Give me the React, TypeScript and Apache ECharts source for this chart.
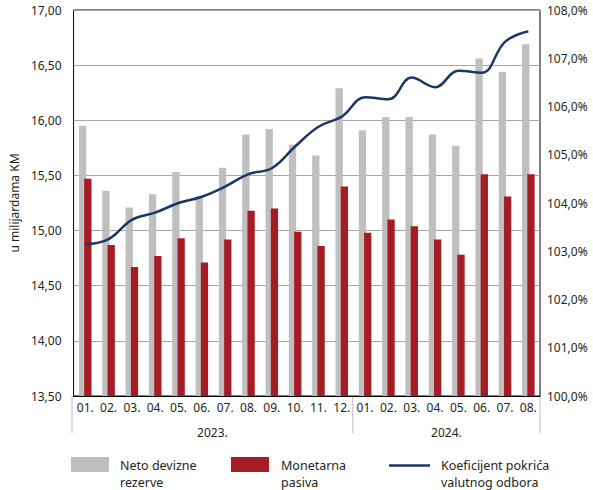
import React, { useEffect, useRef } from "react";
import * as echarts from "echarts";

const months = ["01.", "02.", "03.", "04.", "05.", "06.", "07.", "08.", "09.", "10.", "11.", "12.", "01.", "02.", "03.", "04.", "05.", "06.", "07.", "08."];
const years = ["2023.", "2024."];
const netoRezerve = [15.95, 15.36, 15.21, 15.33, 15.53, 15.31, 15.57, 15.87, 15.92, 15.78, 15.68, 16.29, 15.91, 16.03, 16.03, 15.87, 15.77, 16.56, 16.44, 16.69];
const monetarnaPasiva = [15.47, 14.87, 14.67, 14.77, 14.93, 14.71, 14.92, 15.18, 15.2, 14.99, 14.86, 15.4, 14.98, 15.1, 15.04, 14.92, 14.78, 15.51, 15.31, 15.51];
const koeficijent = [103.14, 103.25, 103.65, 103.8, 104.0, 104.13, 104.34, 104.6, 104.72, 105.17, 105.58, 105.79, 106.19, 106.15, 106.6, 106.4, 106.74, 106.7, 107.34, 107.56];

const FONT = "'Noto Sans', sans-serif";
const TXT = "#231f20";
const GRAY = "#bfbfbf";
const RED = "#a51c24";
const NAVY = "#1b3766";

export default function App() {
  const ref = useRef<HTMLDivElement>(null);
  useEffect(() => {
    document.body.style.margin = "0";
    if (!ref.current) return;
    const chart = echarts.init(ref.current, null, { renderer: "svg" });
    const L = 72, R = 540, T = 10, B = 396;
    const cw = (R - L) / months.length;
    const sepX = L + 12 * cw;
    chart.setOption({
      animation: false,
      textStyle: { fontFamily: FONT },
      grid: { left: L, right: 593 - R, top: T, bottom: 490 - B, show: true, borderColor: "#000", borderWidth: 1 },
      xAxis: {
        type: "category",
        data: months,
        axisLine: { lineStyle: { color: "#000", width: 1 } },
        axisTick: { show: false },
        axisLabel: { color: TXT, fontSize: 12, margin: 5, interval: 0, fontFamily: FONT },
      },
      yAxis: [
        {
          type: "value",
          min: 13.5,
          max: 17,
          interval: 0.5,
          name: "u milijardama KM",
          nameLocation: "middle",
          nameGap: 52,
          nameTextStyle: { color: TXT, fontSize: 12, fontFamily: FONT },
          axisLine: { show: false },
          axisTick: { show: false },
          splitLine: { lineStyle: { color: "#a6a6a6", width: 1 } },
          axisLabel: { color: TXT, fontSize: 12, margin: 12, padding: [6, 0, 0, 0], fontFamily: FONT, formatter: (v: number) => v.toFixed(2).replace(".", ",") },
        },
        {
          type: "value",
          min: 100,
          max: 108,
          interval: 1,
          position: "right",
          axisLine: { show: false },
          axisTick: { show: false },
          splitLine: { show: false },
          axisLabel: { color: TXT, fontSize: 12, margin: 7, padding: [8, 0, 0, 0], fontFamily: FONT, formatter: (v: number) => v.toFixed(1).replace(".", ",") + "%" },
        },
      ],
      series: [
        { name: "Neto devizne rezerve", type: "bar", data: netoRezerve, barWidth: 7.3, barGap: "-28%", itemStyle: { color: GRAY } },
        { name: "Monetarna pasiva", type: "bar", data: monetarnaPasiva, barWidth: 7.3, barGap: "-28%", itemStyle: { color: RED } },
        { name: "Koeficijent pokrića valutnog odbora", type: "line", yAxisIndex: 1, data: koeficijent, smooth: 0.4, showSymbol: false, symbol: "none", lineStyle: { color: NAVY, width: 2.5 }, z: 5 },
      ],
      graphic: [
        { type: "line", shape: { x1: L, y1: B, x2: L, y2: 433 }, style: { stroke: "#bdbdbd", lineWidth: 1 } },
        { type: "line", shape: { x1: sepX, y1: B - 2, x2: sepX, y2: 433 }, style: { stroke: "#bdbdbd", lineWidth: 1 } },
        { type: "line", shape: { x1: R, y1: B, x2: R, y2: 433 }, style: { stroke: "#bdbdbd", lineWidth: 1 } },
        { type: "text", x: (L + sepX) / 2, y: 432, style: { text: years[0], fill: TXT, font: `12px ${FONT}`, textAlign: "center", textVerticalAlign: "middle" } },
        { type: "text", x: (sepX + R) / 2, y: 432, style: { text: years[1], fill: TXT, font: `12px ${FONT}`, textAlign: "center", textVerticalAlign: "middle" } },
        { type: "rect", shape: { x: 71, y: 457, width: 38, height: 15 }, style: { fill: GRAY } },
        { type: "text", x: 120, y: 457, style: { text: "Neto devizne\nrezerve", fill: TXT, font: `12.5px ${FONT}`, lineHeight: 17 } },
        { type: "rect", shape: { x: 231, y: 457, width: 38, height: 15 }, style: { fill: RED } },
        { type: "text", x: 281, y: 457, style: { text: "Monetarna\npasiva", fill: TXT, font: `12.5px ${FONT}`, lineHeight: 17 } },
        { type: "line", shape: { x1: 389, y1: 465.5, x2: 430, y2: 465.5 }, style: { stroke: NAVY, lineWidth: 2.5 } },
        { type: "text", x: 441, y: 457, style: { text: "Koeficijent pokrića\nvalutnog odbora", fill: TXT, font: `12.5px ${FONT}`, lineHeight: 17 } },
      ],
    });
    return () => chart.dispose();
  }, []);
  return <div ref={ref} style={{ width: 593, height: 490 }} />;
}
